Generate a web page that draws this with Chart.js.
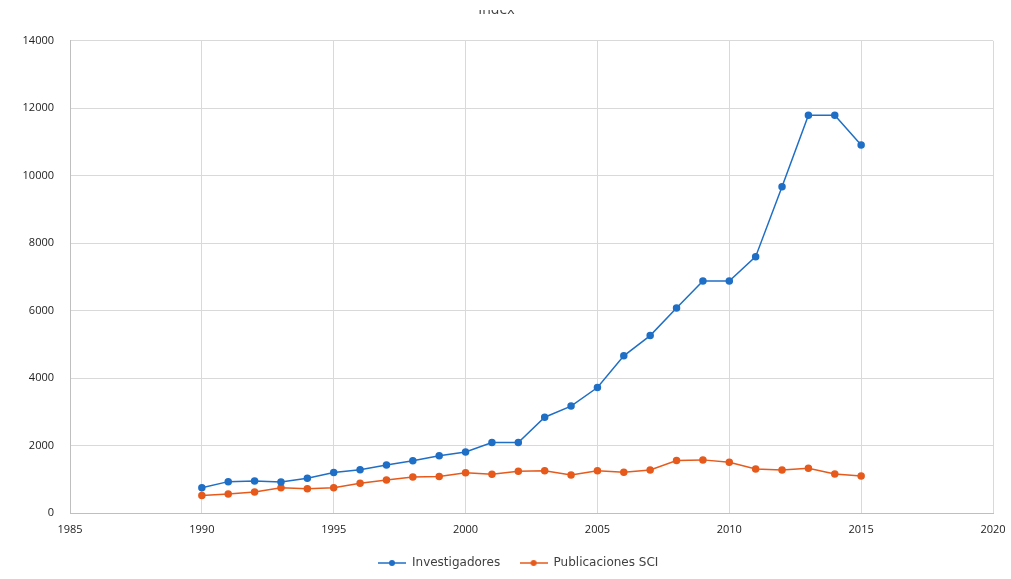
<!DOCTYPE html>
<html>
<head>
<meta charset="utf-8">
<script src="https://cdn.jsdelivr.net/npm/chart.js@4.4.1/dist/chart.umd.min.js"></script>
<style>
  html, body { margin: 0; padding: 0; background: #fff; }
  #wrap { width: 1011px; height: 579px; position: relative; }
</style>
</head>
<body>
<div id="wrap"><canvas id="chart" width="1011" height="579"></canvas></div>
<script>
// データ
const years = [1990, 1991, 1992, 1993, 1994, 1995, 1996, 1997, 1998, 1999, 2000, 2001, 2002,
               2003, 2004, 2005, 2006, 2007, 2008, 2009, 2010, 2011, 2012, 2013, 2014, 2015];
const investigadores = [750, 930, 950, 920, 1030, 1200, 1280, 1420, 1550, 1700, 1810, 2090, 2090,
                        2840, 3170, 3720, 4660, 5260, 6080, 6880, 6880, 7600, 9670, 11790, 11790, 10910];
const publicaciones = [520, 560, 620, 750, 720, 750, 880, 980, 1070, 1080, 1190, 1150, 1240,
                       1250, 1130, 1255, 1210, 1275, 1555, 1575, 1505, 1305, 1275, 1325, 1155, 1095];
const xTicks = [1985, 1990, 1995, 2000, 2005, 2010, 2015, 2020];
const yTicks = [0, 2000, 4000, 6000, 8000, 10000, 12000, 14000];
const seriesNames = ["Investigadores", "Publicaciones SCI"];
const blue = "#1f6fc6";
const orange = "#e65a1c";

// 凡例用のマーカー（線＋点）
function legendMarker(color) {
    const c = document.createElement("canvas");
    c.width = 28; c.height = 10;
    const g = c.getContext("2d");
    g.strokeStyle = color; g.lineWidth = 1.5;
    g.beginPath(); g.moveTo(0, 5); g.lineTo(28, 5); g.stroke();
    g.fillStyle = color;
    g.beginPath(); g.arc(14, 5, 3, 0, Math.PI * 2); g.fill();
    return c;
}

// タイトルの上半分を隠す（元画像で切れている）
const topCover = {
    id: "topCover",
    afterDraw(chart) {
        const ctx = chart.ctx;
        ctx.save();
        ctx.fillStyle = "#fff";
        ctx.fillRect(0, 0, chart.width, 10);
        ctx.restore();
    }
};

const ctx = document.getElementById("chart").getContext("2d");
const chart = new Chart(ctx, {
    type: "line",
    data: {
        datasets: [
            {
                label: seriesNames[0],
                data: years.map((y, i) => ({ x: y, y: investigadores[i] })),
                borderColor: blue,
                backgroundColor: blue,
                borderWidth: 1.5,
                pointRadius: 3,
                pointHoverRadius: 3,
                tension: 0
            },
            {
                label: seriesNames[1],
                data: years.map((y, i) => ({ x: y, y: publicaciones[i] })),
                borderColor: orange,
                backgroundColor: orange,
                borderWidth: 1.5,
                pointRadius: 3,
                pointHoverRadius: 3,
                tension: 0
            }
        ]
    },
    options: {
        responsive: false,
        animation: false,
        devicePixelRatio: 1,
        layout: { padding: { left: 0, right: 18, top: 0, bottom: 0 } },
        plugins: {
            title: {
                display: true,
                text: "Index",
                color: "#404040",
                font: { family: "Open Sans", size: 14, weight: "normal" },
                padding: { top: 2, bottom: 22 }
            },
            legend: {
                position: "bottom",
                fullSize: false,
                labels: {
                    color: "#404040",
                    font: { family: "DejaVu Sans", size: 12 },
                    usePointStyle: true,
                    pointStyleWidth: 28,
                    boxWidth: 28,
                    padding: 8,
                    generateLabels(chart) {
                        // 余白調整のため末尾に空白を入れる
                        const tails = ["   ", "       "];
                        return chart.data.datasets.map((ds, i) => ({
                            text: ds.label + tails[i],
                            fillStyle: ds.borderColor,
                            strokeStyle: ds.borderColor,
                            fontColor: "#404040",
                            pointStyle: legendMarker(ds.borderColor),
                            datasetIndex: i,
                            lineWidth: 0,
                            hidden: false
                        }));
                    }
                }
            },
            tooltip: { enabled: false }
        },
        scales: {
            x: {
                type: "linear",
                min: xTicks[0],
                max: xTicks[xTicks.length - 1],
                afterBuildTicks(scale) { scale.ticks = xTicks.map(v => ({ value: v })); },
                afterFit(scale) { scale.height = 36; scale.paddingRight = 0; },
                ticks: {
                    color: "#222",
                    font: { family: "Open Sans", size: 11 },
                    padding: 10,
                    maxRotation: 0,
                    minRotation: 0,
                    callback: v => String(v)
                },
                grid: { color: "#d9d9d9", drawTicks: false },
                border: { color: "#bfbfbf" }
            },
            y: {
                min: yTicks[0],
                max: yTicks[yTicks.length - 1],
                afterBuildTicks(scale) { scale.ticks = yTicks.map(v => ({ value: v })); },
                afterFit(scale) { scale.width = 70; },
                ticks: {
                    color: "#222",
                    font: { family: "Open Sans", size: 11 },
                    padding: 16,
                    callback: v => String(v)
                },
                grid: { color: "#d9d9d9", drawTicks: false },
                border: { color: "#bfbfbf" }
            }
        }
    },
    plugins: [topCover]
});
</script>
</body>
</html>
